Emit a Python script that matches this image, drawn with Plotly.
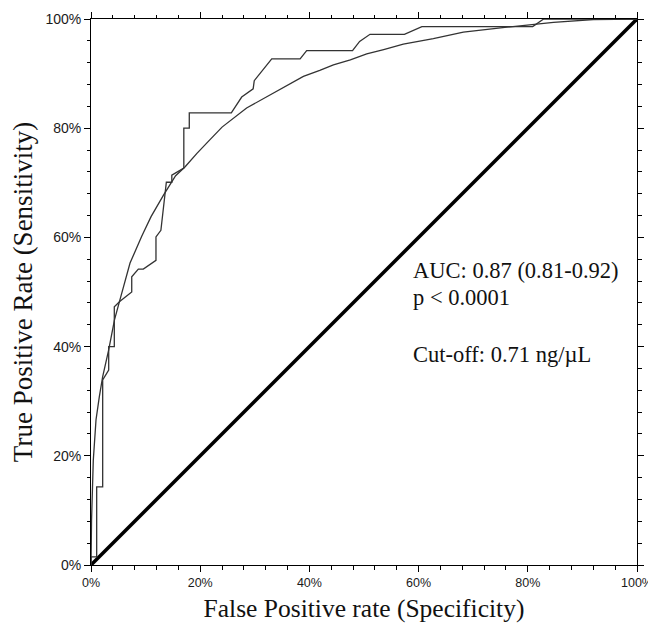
import plotly.graph_objects as go

# Empirical ROC (step curve), in percent
emp_fpr = [0, 0, 1.04, 1.04, 2.14, 2.14, 3.24, 3.24, 4.27, 4.27, 5.31, 7.46, 7.46,
           8.67, 9.58, 11.9, 11.9, 12.8, 13.8, 14.8, 14.8, 17.0, 17.0, 18.0, 18.0,
           25.7, 27.6, 29.7, 29.9, 33.1, 38.3, 39.5, 47.9, 49.2, 51.1, 57.4, 60.6,
           80.9, 82.9, 100]
emp_tpr = [0, 1.5, 1.5, 14.3, 14.3, 33.9, 35.7, 40.0, 40.0, 47.3, 48.3, 50.0, 52.8,
           54.2, 54.2, 55.8, 60.1, 61.3, 70.1, 70.1, 71.4, 72.7, 80.0, 80.0, 82.8,
           82.8, 85.7, 87.2, 88.7, 92.7, 92.7, 94.2, 94.2, 95.9, 97.2, 97.2, 98.6,
           98.6, 100, 100]

# Fitted (smooth) ROC curve, in percent
fit_fpr = [0, 0.1, 0.42, 0.92, 1.52, 2.14, 3.24, 4.3, 5.31, 7.15, 9.29, 11.0, 13.25,
           15.5, 17.2, 19.4, 21.8, 24.0, 28.5, 32.2, 35.2, 38.9, 41.9, 44.4, 47.5,
           50.5, 53.6, 57.2, 62.7, 68.2, 76.2, 81.1, 84.7, 92.0, 100]
fit_tpr = [0, 8.2, 19.2, 26.6, 30.8, 34.5, 39.4, 44.9, 48.6, 55.3, 60.2, 63.8, 67.7,
           71.3, 72.9, 75.4, 77.9, 80.2, 83.7, 85.8, 87.5, 89.5, 90.6, 91.6, 92.5,
           93.6, 94.4, 95.4, 96.4, 97.6, 98.5, 99.0, 99.4, 99.9, 100]

ref_x = [0, 100]
ref_y = [0, 100]

tick_vals = [0, 20, 40, 60, 80, 100]
tick_text = ["0%", "20%", "40%", "60%", "80%", "100%"]

annot_lines = ["AUC: 0.87 (0.81-0.92)", "p < 0.0001", "Cut-off: 0.71 ng/µL"]
annot_y = [54.0, 49.0, 38.6]

fig = go.Figure()
fig.add_trace(go.Scatter(x=ref_x, y=ref_y, mode="lines",
                         line=dict(color="#000000", width=3.5), hoverinfo="skip"))
fig.add_trace(go.Scatter(x=fit_fpr, y=fit_tpr, mode="lines",
                         line=dict(color="#333333", width=1.3)))
fig.add_trace(go.Scatter(x=emp_fpr, y=emp_tpr, mode="lines",
                         line=dict(color="#333333", width=1.3)))

axis_common = dict(
    range=[0, 100], tickvals=tick_vals, ticktext=tick_text,
    ticks="outside", ticklen=6, tickwidth=1, tickcolor="#000000",
    showline=True, linecolor="#000000", linewidth=1, mirror="ticks",
    showgrid=False, zeroline=False, automargin=False,
    minor=dict(dtick=4, tick0=0, ticks="outside", ticklen=3.5, tickwidth=1,
               tickcolor="#000000", showgrid=False),
    fixedrange=True,
)

fig.update_xaxes(**axis_common,
                 tickfont=dict(family="Liberation Sans, Arial", size=12.5, color="#1a1a1a"),
                 title=dict(text="False Positive rate (Specificity)",
                            font=dict(family="Liberation Serif, Times New Roman", size=25.5, color="#111111"),
                            standoff=10))
fig.update_yaxes(**axis_common,
                 tickfont=dict(family="Liberation Sans, Arial", size=14, color="#1a1a1a"),
                 title=dict(text="True Positive Rate (Sensitivity)",
                            font=dict(family="Liberation Serif, Times New Roman", size=27, color="#111111"),
                            standoff=9))

for txt, yy in zip(annot_lines, annot_y):
    fig.add_annotation(
        x=58.6, y=yy, xref="x", yref="y", xanchor="left", yanchor="middle",
        text=txt, showarrow=False, align="left",
        font=dict(family="Liberation Serif, Times New Roman", size=22.5, color="#111111"),
    )

# page body has an 8px default margin, so the margins are offset to compensate
fig.update_layout(
    width=656, height=624,
    margin=dict(l=83, r=27, t=11, b=67),
    paper_bgcolor="#ffffff", plot_bgcolor="#ffffff",
    showlegend=False,
)

fig.write_html("out.html")
